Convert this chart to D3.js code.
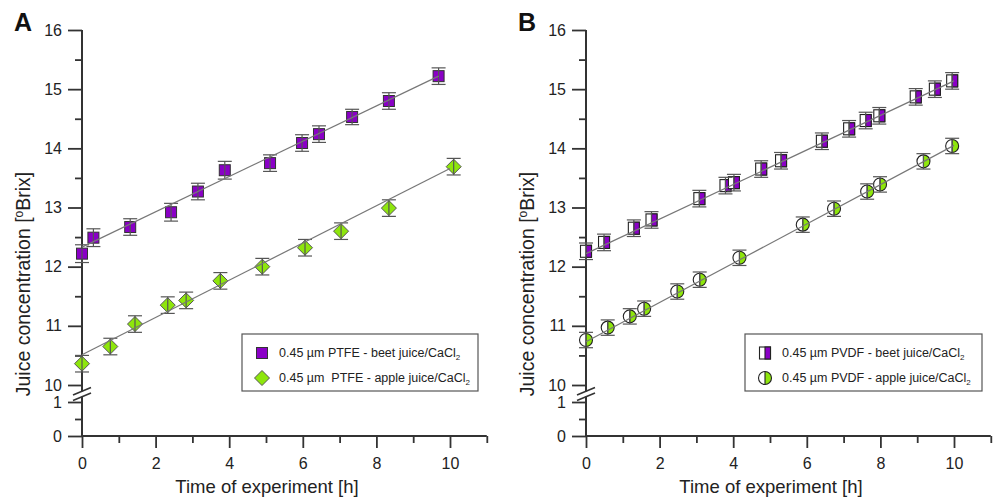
<!DOCTYPE html>
<html>
<head>
<meta charset="utf-8">
<script src="https://cdn.jsdelivr.net/npm/d3@7"></script>
<style>
  html, body { margin: 0; padding: 0; background: #fff; }
  svg { display: block; font-family: "Liberation Sans", Arial, sans-serif; }
  .legend-text { white-space: pre; }
</style>
</head>
<body>
<svg id="chart" width="993" height="497"></svg>
<script>
// ---- Panel A: PTFE membrane ----
const timeA_beet  = [0, 0.31, 1.31, 2.42, 3.15, 3.88, 5.11, 5.98, 6.44, 7.34, 8.34, 9.69];
const brixA_beet  = [12.22, 12.49, 12.67, 12.92, 13.27, 13.63, 13.75, 14.09, 14.24, 14.53, 14.80, 15.22];
const errA_beet   = [0.15, 0.15, 0.14, 0.15, 0.14, 0.15, 0.14, 0.14, 0.14, 0.13, 0.14, 0.14];
const timeA_apple = [0, 0.77, 1.44, 2.33, 2.83, 3.76, 4.90, 6.06, 7.04, 8.34, 10.1];
const brixA_apple = [10.36, 10.65, 11.03, 11.35, 11.43, 11.76, 12.00, 12.32, 12.60, 12.99, 13.69];
const errA_apple  = [0.14, 0.14, 0.14, 0.14, 0.14, 0.14, 0.14, 0.14, 0.14, 0.14, 0.14];
const fitA_beet   = [[0, 12.33], [9.69, 15.22]];
const fitA_apple  = [[0, 10.51], [10.0, 13.66]];

// ---- Panel B: PVDF membrane ----
const timeB_beet  = [0, 0.49, 1.30, 1.78, 3.08, 3.79, 4.02, 4.76, 5.30, 6.41, 7.15, 7.60, 7.97, 8.96, 9.48, 9.95];
const brixB_beet  = [12.26, 12.41, 12.65, 12.79, 13.15, 13.37, 13.42, 13.65, 13.79, 14.12, 14.33, 14.47, 14.55, 14.87, 15.00, 15.14];
const errB_beet   = [0.14, 0.14, 0.14, 0.14, 0.14, 0.14, 0.14, 0.14, 0.14, 0.14, 0.14, 0.14, 0.14, 0.14, 0.14, 0.14];
const timeB_apple = [0, 0.59, 1.19, 1.58, 2.48, 3.09, 4.17, 5.89, 6.74, 7.64, 7.99, 9.17, 9.95];
const brixB_apple = [10.76, 10.97, 11.16, 11.29, 11.58, 11.78, 12.15, 12.71, 12.98, 13.27, 13.39, 13.78, 14.04];
const errB_apple  = [0.13, 0.13, 0.13, 0.13, 0.13, 0.13, 0.13, 0.13, 0.13, 0.13, 0.13, 0.13, 0.13];
const fitB_beet   = [[0, 12.22], [10.0, 15.14]];
const fitB_apple  = [[0, 10.73], [10.0, 14.05]];

// ---- Axis ticks and labels ----
const xMajorTicks = [0, 2, 4, 6, 8, 10];
const xMinorTicks = [1, 3, 5, 7, 9, 11];
const yUpperMajor = [10, 11, 12, 13, 14, 15, 16];
const yUpperMinor = [10.5, 11.5, 12.5, 13.5, 14.5, 15.5];
const yLowerMajor = [0, 1];
const yLowerMinor = [0.5];
const panelLetters = ["A", "B"];
const xTitle = "Time of experiment [h]";
const legendA = ["0.45 \u00b5m PTFE - beet juice/CaCl", "0.45 \u00b5m  PTFE - apple juice/CaCl"];
const legendB = ["0.45 \u00b5m PVDF - beet juice/CaCl", "0.45 \u00b5m PVDF - apple juice/CaCl"];

const PURPLE = "#8a00c6";
const GREEN  = "#8ee60c";
const AXIS   = "#333";

const svg = d3.select("#chart");

function zip(t, v, e) { return t.map((d, i) => ({ t: d, v: v[i], e: e[i] })); }

function drawPanel(cfg) {
  const g = svg.append("g");
  const x = d3.scaleLinear().domain([0, 11]).range([cfg.x0, cfg.x0 + 11 * 36.8]);
  const yUp = d3.scaleLinear().domain([10, 16]).range([385, 30]);
  const yLo = d3.scaleLinear().domain([0, 1]).range([436, 402]);

  // panel letter
  g.append("text").attr("x", cfg.x0 - 68).attr("y", 31)
    .attr("font-size", 25).attr("font-weight", "bold").attr("fill", "#111")
    .text(cfg.letter);

  // y axis (upper segment)
  const yAxUpMajor = g.append("g").attr("transform", `translate(${cfg.x0},0)`)
    .call(d3.axisLeft(yUp).tickValues(yUpperMajor).tickSize(14).tickPadding(6).tickFormat(d3.format("d")));
  const yAxUpMinor = g.append("g").attr("transform", `translate(${cfg.x0},0)`)
    .call(d3.axisLeft(yUp).tickValues(yUpperMinor).tickSize(7).tickFormat(""));
  // y axis (lower segment after the break)
  const yAxLoMajor = g.append("g").attr("transform", `translate(${cfg.x0},0)`)
    .call(d3.axisLeft(yLo).tickValues(yLowerMajor).tickSize(14).tickPadding(6).tickFormat(d3.format("d")));
  const yAxLoMinor = g.append("g").attr("transform", `translate(${cfg.x0},0)`)
    .call(d3.axisLeft(yLo).tickValues(yLowerMinor).tickSize(7).tickFormat(""));
  // x axis
  const xAxMajor = g.append("g").attr("transform", `translate(0,${yLo(0)})`)
    .call(d3.axisBottom(x).tickValues(xMajorTicks).tickSize(12).tickPadding(10).tickFormat(d3.format("d")));
  const xAxMinor = g.append("g").attr("transform", `translate(0,${yLo(0)})`)
    .call(d3.axisBottom(x).tickValues(xMinorTicks).tickSize(7).tickFormat(""));

  [yAxUpMajor, yAxUpMinor, yAxLoMajor, yAxLoMinor, xAxMajor, xAxMinor].forEach(a => {
    a.select(".domain").remove();
    a.selectAll("line").attr("stroke", AXIS).attr("stroke-width", 1.8);
    a.selectAll("text").attr("font-size", 16).attr("fill", "#222")
      .attr("font-family", "'Liberation Sans', Arial, sans-serif");
  });

  // axis lines with the break
  const ax = g.append("g").attr("stroke", AXIS).attr("stroke-width", 2).attr("fill", "none");
  ax.append("line").attr("x1", cfg.x0).attr("x2", cfg.x0).attr("y1", yUp(16)).attr("y2", 391.5);
  ax.append("line").attr("x1", cfg.x0).attr("x2", cfg.x0).attr("y1", 396.5).attr("y2", yLo(0));
  ax.append("line").attr("x1", cfg.x0).attr("x2", x(11)).attr("y1", yLo(0)).attr("y2", yLo(0));
  // break marks
  ax.append("line").attr("x1", cfg.x0 - 9).attr("y1", 395).attr("x2", cfg.x0 + 9).attr("y2", 387.5).attr("stroke-width", 1.6);
  ax.append("line").attr("x1", cfg.x0 - 9).attr("y1", 400.5).attr("x2", cfg.x0 + 9).attr("y2", 393).attr("stroke-width", 1.6);

  // axis titles
  g.append("text").attr("x", (x(0) + x(10)) / 2 + 1).attr("y", 493)
    .attr("text-anchor", "middle").attr("font-size", 18.5).attr("fill", "#222").text(xTitle);
  const yt = g.append("text")
    .attr("transform", `translate(${cfg.x0 - 52},284) rotate(-90)`)
    .attr("text-anchor", "middle").attr("font-size", 19.5).attr("fill", "#222");
  yt.append("tspan").text("Juice concentration [");
  yt.append("tspan").attr("font-size", 12).attr("dy", -7).text("o");
  yt.append("tspan").attr("dy", 7).text("Brix]");

  const line = d3.line().x(d => x(d[0])).y(d => yUp(d[1]));

  // markers
  cfg.series.forEach(s => {
    const data = zip(s.t, s.v, s.e);
    const mg = g.append("g");
    data.forEach(d => drawMarker(mg, s.shape, x(d.t), yUp(d.v)));
  });

  // error bars and fitted lines over the markers
  cfg.series.forEach(s => {
    const data = zip(s.t, s.v, s.e);
    const eg = g.append("g").attr("stroke", "#555").attr("stroke-width", 1.2);
    eg.selectAll(".v").data(data).join("line")
      .attr("x1", d => x(d.t)).attr("x2", d => x(d.t))
      .attr("y1", d => yUp(d.v + d.e)).attr("y2", d => yUp(d.v - d.e));
    eg.selectAll(".ct").data(data).join("line")
      .attr("x1", d => x(d.t) - 7).attr("x2", d => x(d.t) + 7)
      .attr("y1", d => yUp(d.v + d.e)).attr("y2", d => yUp(d.v + d.e));
    eg.selectAll(".cb").data(data).join("line")
      .attr("x1", d => x(d.t) - 7).attr("x2", d => x(d.t) + 7)
      .attr("y1", d => yUp(d.v - d.e)).attr("y2", d => yUp(d.v - d.e));
    g.append("path").datum(s.fit).attr("d", line)
      .attr("fill", "none").attr("stroke", "#777").attr("stroke-width", 1.2);
  });

  // legend
  const lg = g.append("g");
  lg.append("rect").attr("x", cfg.legX).attr("y", 334).attr("width", cfg.legW).attr("height", 57)
    .attr("fill", "#fff").attr("stroke", "#555").attr("stroke-width", 1.2);
  cfg.series.forEach((s, i) => {
    const cy = 353 + i * 25;
    drawMarker(lg, s.shape, cfg.legX + 20, cy);
    const tx = lg.append("text").attr("class", "legend-text")
      .attr("x", cfg.legX + 37).attr("y", cy + 4)
      .attr("font-size", 12.5).attr("fill", "#222");
    tx.append("tspan").text(s.label);
    tx.append("tspan").attr("font-size", 8).attr("dy", 3).text("2");
  });
}

function drawMarker(g, shape, cx, cy) {
  if (shape === "square") {
    g.append("rect").attr("x", cx - 5.5).attr("y", cy - 5.5).attr("width", 11).attr("height", 11)
      .attr("fill", PURPLE).attr("stroke", "#333").attr("stroke-width", 1);
  } else if (shape === "diamond") {
    const r = 7.5;
    g.append("path").attr("d", `M${cx},${cy - r}L${cx + r},${cy}L${cx},${cy + r}L${cx - r},${cy}Z`)
      .attr("fill", GREEN).attr("stroke", "#555").attr("stroke-width", 1);
  } else if (shape === "halfSquare") {
    g.append("rect").attr("x", cx - 5.5).attr("y", cy - 6).attr("width", 11).attr("height", 12)
      .attr("fill", "#fff").attr("stroke", "#222").attr("stroke-width", 1.1);
    g.append("rect").attr("x", cx).attr("y", cy - 6).attr("width", 5.5).attr("height", 12)
      .attr("fill", PURPLE).attr("stroke", "#222").attr("stroke-width", 1.1);
  } else if (shape === "halfCircle") {
    const r = 6.5;
    g.append("circle").attr("cx", cx).attr("cy", cy).attr("r", r).attr("fill", "#fff");
    g.append("path").attr("d", `M${cx},${cy - r}A${r},${r} 0 0 1 ${cx},${cy + r}Z`).attr("fill", GREEN);
    g.append("circle").attr("cx", cx).attr("cy", cy).attr("r", r)
      .attr("fill", "none").attr("stroke", "#222").attr("stroke-width", 1.1);
    g.append("line").attr("x1", cx).attr("x2", cx).attr("y1", cy - r).attr("y2", cy + r)
      .attr("stroke", "#222").attr("stroke-width", 1.1);
  }
}

drawPanel({
  letter: panelLetters[0], x0: 82, legX: 242, legW: 236,
  series: [
    { t: timeA_beet, v: brixA_beet, e: errA_beet, fit: fitA_beet, shape: "square", label: legendA[0] },
    { t: timeA_apple, v: brixA_apple, e: errA_apple, fit: fitA_apple, shape: "diamond", label: legendA[1] }
  ]
});
drawPanel({
  letter: panelLetters[1], x0: 586, legX: 745, legW: 237,
  series: [
    { t: timeB_beet, v: brixB_beet, e: errB_beet, fit: fitB_beet, shape: "halfSquare", label: legendB[0] },
    { t: timeB_apple, v: brixB_apple, e: errB_apple, fit: fitB_apple, shape: "halfCircle", label: legendB[1] }
  ]
});
</script>
</body>
</html>
